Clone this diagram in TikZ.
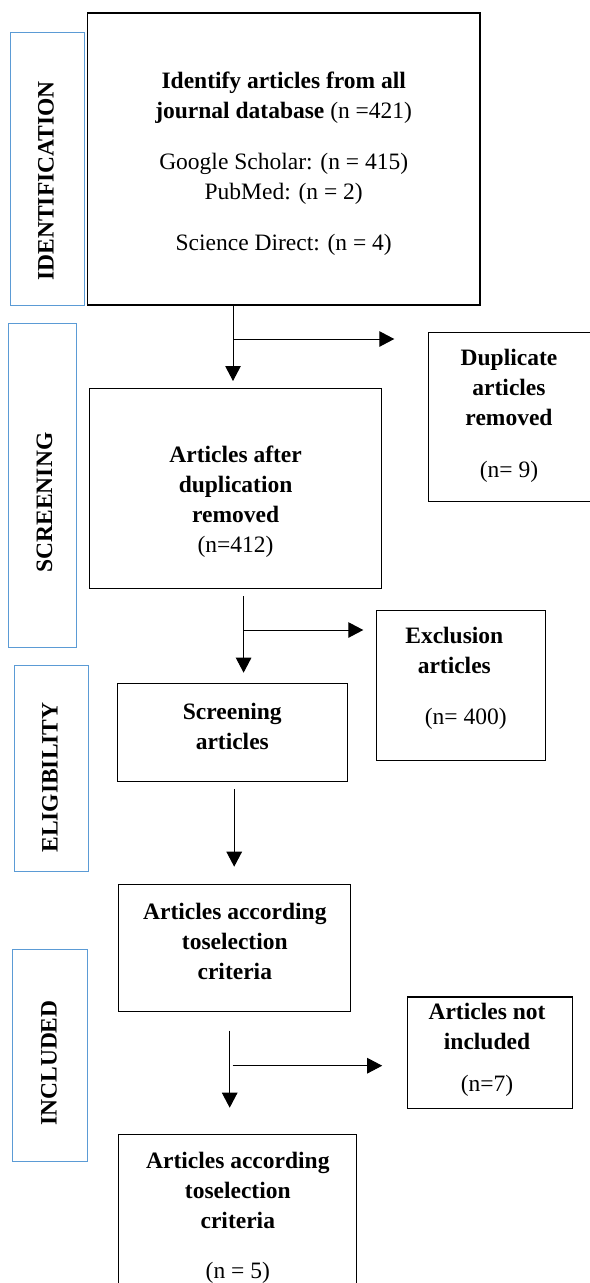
\documentclass[tikz,border=0pt]{standalone}
\usepackage{fontspec}
\setmainfont{Liberation Serif}
\usetikzlibrary{arrows.meta}
\definecolor{sideblue}{RGB}{91,155,213}
\begin{document}
\begin{tikzpicture}[x=1bp,y=1bp,
  box/.style={draw=black, line width=1.1bp, inner sep=0pt, outer sep=0pt, anchor=north west},
  side/.style={draw=sideblue, line width=0.9bp, inner sep=0pt, outer sep=0pt, anchor=north west},
  txt/.style={align=center, inner sep=0pt, font=\fontsize{23.5bp}{30bp}\selectfont},
  stage/.style={rotate=90, inner sep=0pt, font=\fontsize{23.5bp}{28bp}\selectfont\bfseries},
  arr/.style={line width=1bp, -{Triangle[length=15bp,width=15.5bp]}}]
\useasboundingbox (0,0) rectangle (590,-1283);

% side stage boxes
\node[side, minimum width=74bp, minimum height=273bp] (idside) at (10,-32) {};
\node[side, minimum width=68.5bp, minimum height=323.7bp] (scside) at (8.3,-323.3) {};
\node[side, minimum width=73.8bp, minimum height=205.7bp] (elside) at (14.3,-665.3) {};
\node[side, minimum width=74.2bp, minimum height=211.7bp] (inside) at (12.8,-949.3) {};

% main boxes
\node[box, minimum width=392.5bp, minimum height=292bp] (idbox) at (87.5,-13) {};
\node[box, minimum width=163bp, minimum height=169bp] (dupbox) at (428.3,-332.7) {};
\node[box, minimum width=292.1bp, minimum height=200bp] (afterbox) at (89.6,-388.3) {};
\node[box, minimum width=168.7bp, minimum height=150bp] (exclbox) at (376.5,-610.7) {};
\node[box, minimum width=230bp, minimum height=98.4bp] (scrbox) at (117.5,-683.3) {};
\node[box, minimum width=232.3bp, minimum height=127.4bp] (accbox) at (118.6,-884.3) {};
\node[box, minimum width=164.5bp, minimum height=111.7bp] (notbox) at (407.8,-997) {};
\node[box, minimum width=238.1bp, minimum height=160bp] (finalbox) at (118.5,-1134.3) {};

% texts
\node[txt] (idtxt) at (283.7,-164) {\textbf{Identify articles from all}\\\textbf{journal database} (n =421)\\[21bp]Google Scholar: (n = 415)\\PubMed: (n = 2)\\[21bp]Science Direct: (n = 4)};
\node[txt] (duptxt) at (509,-416) {\textbf{Duplicate}\\\textbf{articles}\\\textbf{removed}\\[22bp](n= 9)};
\node[txt] (aftertxt) at (235.6,-502) {\textbf{Articles after}\\\textbf{duplication}\\\textbf{removed}\\(n=412)};
\node[txt] (excltxt) at (454.3,-678.5) {\textbf{Exclusion}\\\textbf{articles}\\[21bp]\hspace*{23bp}(n= 400)};
\node[txt] (scrtxt) at (232.3,-726) {\textbf{Screening}\\\textbf{articles}};
\node[txt] (acctxt) at (234.8,-941) {\textbf{Articles according}\\\textbf{toselection}\\\textbf{criteria}};
\node[txt] (nottxt) at (487,-1049.5) {\textbf{Articles not}\\\textbf{included}\\[12bp](n=7)};
\node[txt] (finaltxt) at (237.8,-1218) {\textbf{Articles according}\\\textbf{toselection}\\\textbf{criteria}\\[20bp](n = 5)};

% stage labels
\node[stage] (idlab) at (46,-180.8) {IDENTIFICATION};
\node[stage] (sclab) at (44.4,-502.5) {SCREENING};
\node[stage] (ellab) at (50,-777.5) {ELIGIBILITY};
\node[stage] (inlab) at (49,-1063) {INCLUDED};

% connector columns and branch rows
\coordinate (v1) at (233,0);
\coordinate (h1) at (0,-339);
\coordinate (v2) at (243.6,0);
\coordinate (h2) at (0,-630);
\coordinate (v3) at (234.2,0);
\coordinate (v4) at (229.7,0);
\coordinate (h4) at (0,-1065.7);

\draw[arr, shorten >=7.3bp] (idbox.south -| v1) -- (afterbox.north -| v1);
\draw[arr, shorten >=34bp] (v1 |- h1) -- (dupbox.west |- h1);

\draw[arr, shorten <=7.7bp, shorten >=10.6bp] (afterbox.south -| v2) -- (scrbox.north -| v2);
\draw[arr, shorten >=13.2bp] (v2 |- h2) -- (exclbox.west |- h2);

\draw[arr, shorten <=7.6bp, shorten >=17.6bp] (scrbox.south -| v3) -- (accbox.north -| v3);

\draw[arr, shorten <=19bp, shorten >=26.6bp] (accbox.south -| v4) -- (finalbox.north -| v4);
\draw[arr, shorten <=3bp, shorten >=25.6bp] (v4 |- h4) -- (notbox.west |- h4);
\end{tikzpicture}
\end{document}
